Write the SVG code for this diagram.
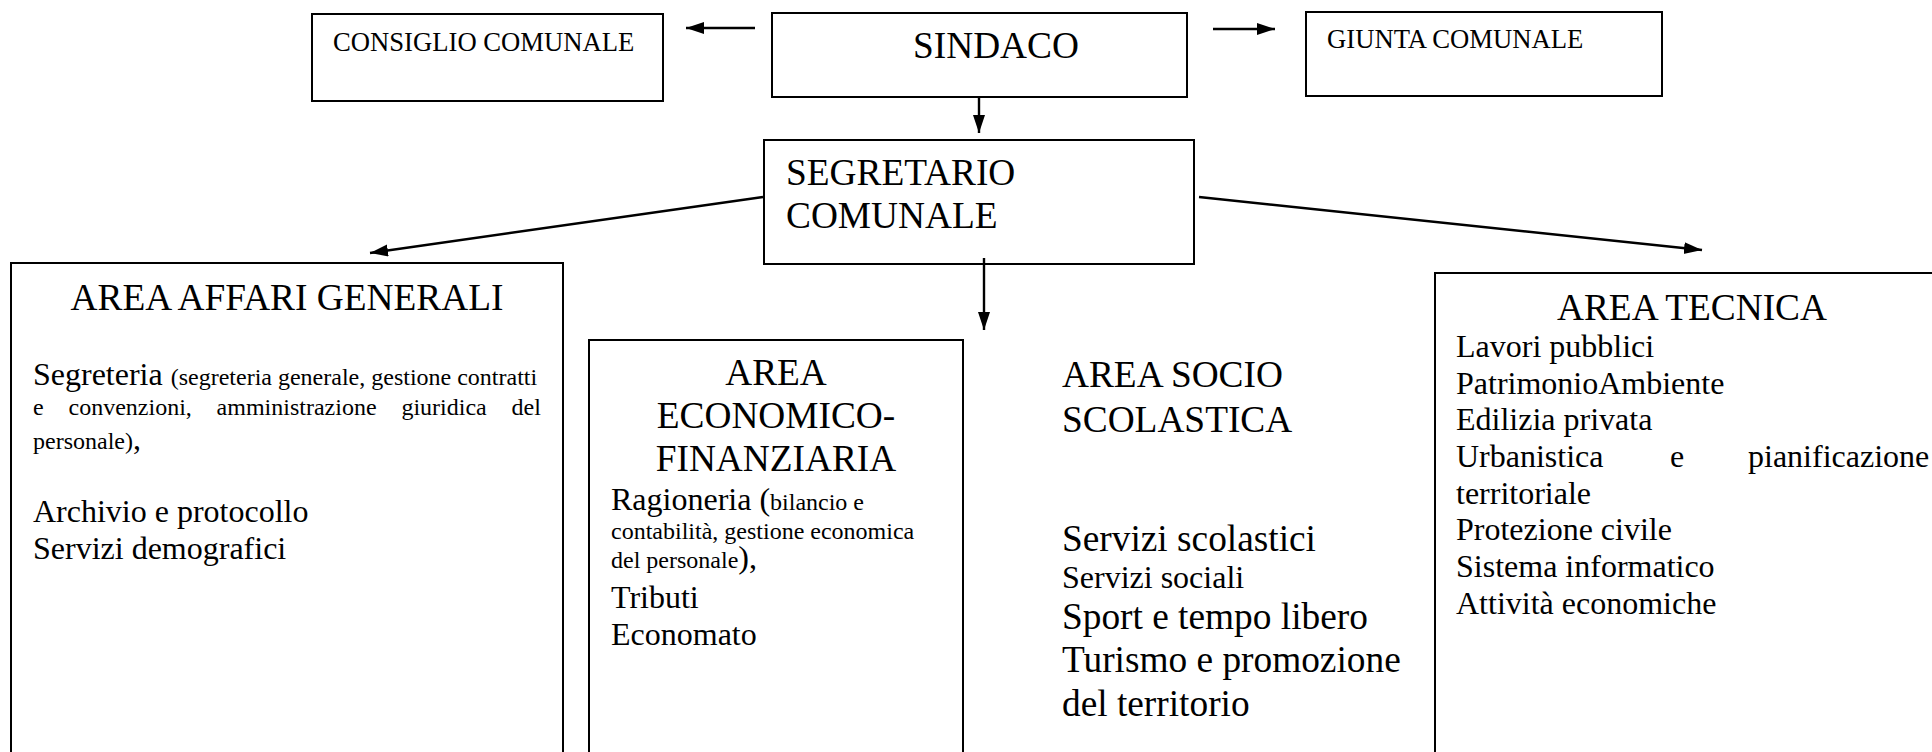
<svg xmlns="http://www.w3.org/2000/svg" width="1932" height="752" viewBox="0 0 1932 752">
<style>
  .box { fill: #fff; stroke: #000; stroke-width: 2; }
  .conn { stroke: #000; stroke-width: 2.4; fill: none; marker-end: url(#arrow); }
  text { font-family: "Liberation Serif", "Times New Roman", serif; fill: #000; }
  .t37 { font-size: 37.33px; }
  .t32 { font-size: 32px; }
  .t27 { font-size: 26.67px; }
  .t24 { font-size: 24px; }
</style>
<defs>
  <marker id="arrow" markerUnits="userSpaceOnUse" markerWidth="19" markerHeight="13" refX="18" refY="6" orient="auto">
    <path d="M0,0 L18,6 L0,12 z" fill="#000"/>
  </marker>
</defs>
<rect width="1932" height="752" fill="#fff"/>

<g id="consiglio">
  <rect class="box" x="312" y="14" width="351" height="87"/>
  <text class="t27" x="333" y="51">CONSIGLIO COMUNALE</text>
</g>

<g id="sindaco">
  <rect class="box" x="772" y="13" width="415" height="84"/>
  <text class="t37" x="913" y="58">SINDACO</text>
</g>

<g id="giunta">
  <rect class="box" x="1306" y="12" width="356" height="84"/>
  <text class="t27" x="1327" y="48">GIUNTA COMUNALE</text>
</g>

<g id="segretario">
  <rect class="box" x="764" y="140" width="430" height="124"/>
  <text class="t37" x="786" y="185">SEGRETARIO</text>
  <text class="t37" x="786" y="228">COMUNALE</text>
</g>

<g id="affari">
  <rect class="box" x="11" y="263" width="552" height="520"/>
  <text class="t37" x="287" y="310" text-anchor="middle">AREA AFFARI GENERALI</text>
  <text x="33" y="385"><tspan class="t32">Segreteria </tspan><tspan class="t24">(segreteria generale, gestione contratti</tspan></text>
  <text class="t24" y="415"><tspan x="33">e</tspan><tspan x="68.5">convenzioni,</tspan><tspan x="216.6">amministrazione</tspan><tspan x="401.4">giuridica</tspan><tspan x="511.5">del</tspan></text>
  <text x="33" y="449"><tspan class="t24">personale)</tspan><tspan class="t32">,</tspan></text>
  <text class="t32" x="33" y="522">Archivio e protocollo</text>
  <text class="t32" x="33" y="559">Servizi demografici</text>
</g>

<g id="economico">
  <rect class="box" x="589" y="340" width="374" height="450"/>
  <text class="t37" x="776" y="385" text-anchor="middle">AREA</text>
  <text class="t37" x="776" y="428" text-anchor="middle">ECONOMICO-</text>
  <text class="t37" x="776" y="471" text-anchor="middle">FINANZIARIA</text>
  <text x="611" y="510"><tspan class="t32">Ragioneria (</tspan><tspan class="t24">bilancio e</tspan></text>
  <text class="t24" x="611" y="539">contabilità, gestione economica</text>
  <text x="611" y="568"><tspan class="t24">del personale</tspan><tspan class="t32">),</tspan></text>
  <text class="t32" x="611" y="608">Tributi</text>
  <text class="t32" x="611" y="645">Economato</text>
</g>

<g id="socio">
  <text class="t37" x="1062" y="387">AREA SOCIO</text>
  <text class="t37" x="1062" y="432">SCOLASTICA</text>
  <text class="t37" x="1062" y="551">Servizi scolastici</text>
  <text class="t32" x="1062" y="588">Servizi sociali</text>
  <text class="t37" x="1062" y="629">Sport e tempo libero</text>
  <text class="t37" x="1062" y="672">Turismo e promozione</text>
  <text class="t37" x="1062" y="716">del territorio</text>
</g>

<g id="tecnica">
  <rect class="box" x="1435" y="273" width="600" height="520"/>
  <text class="t37" x="1692" y="320" text-anchor="middle">AREA TECNICA</text>
  <text class="t32" x="1456" y="357">Lavori pubblici</text>
  <text class="t32" x="1456" y="394">PatrimonioAmbiente</text>
  <text class="t32" x="1456" y="430">Edilizia privata</text>
  <text class="t32" y="467"><tspan x="1456">Urbanistica</tspan><tspan x="1670">e</tspan><tspan x="1748">pianificazione</tspan></text>
  <text class="t32" x="1456" y="504">territoriale</text>
  <text class="t32" x="1456" y="540">Protezione civile</text>
  <text class="t32" x="1456" y="577">Sistema informatico</text>
  <text class="t32" x="1456" y="614">Attività economiche</text>
</g>

<g id="connectors">
  <line class="conn" x1="755" y1="28" x2="686" y2="28"/>
  <line class="conn" x1="1213" y1="29" x2="1275" y2="29"/>
  <line class="conn" x1="979" y1="97" x2="979" y2="133"/>
  <line class="conn" x1="763" y1="197" x2="370" y2="253"/>
  <line class="conn" x1="1199" y1="197" x2="1702" y2="250"/>
  <line class="conn" x1="984" y1="258" x2="984" y2="330"/>
</g>
</svg>
